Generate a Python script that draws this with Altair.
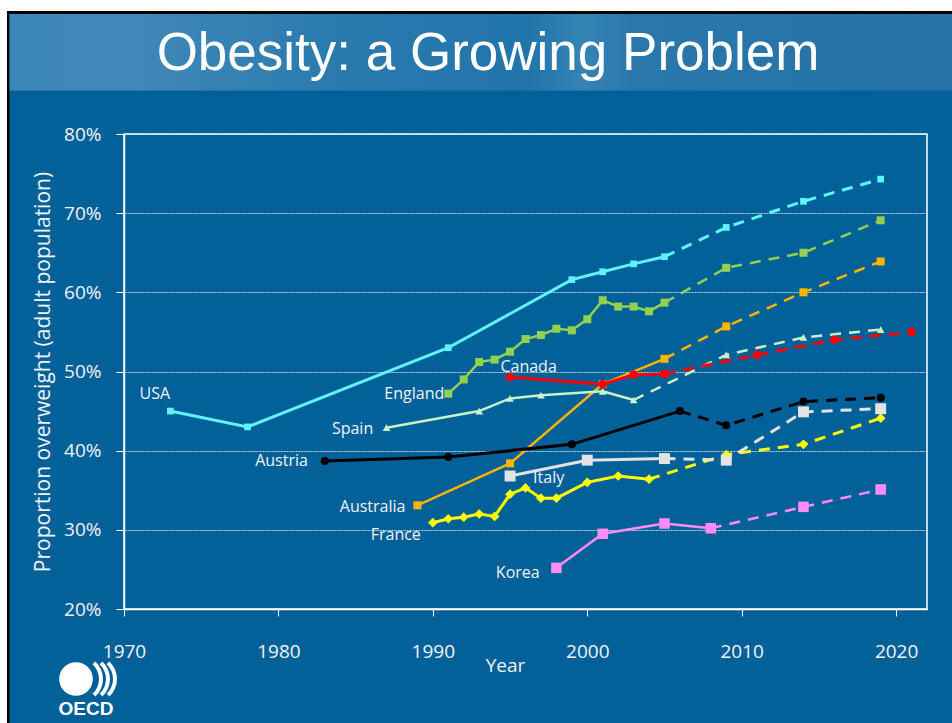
import altair as alt
import pandas as pd

# ---- Observed prevalence of overweight (% of adults) ----
usa_years = [1973, 1978, 1991, 1999, 2001, 2003, 2005]
usa_vals = [45.0, 43.0, 53.0, 61.6, 62.6, 63.6, 64.5]
england_years = [1991, 1992, 1993, 1994, 1995, 1996, 1997, 1998, 1999, 2000, 2001, 2002, 2003, 2004, 2005]
england_vals = [47.2, 49.0, 51.2, 51.5, 52.5, 54.1, 54.6, 55.4, 55.2, 56.6, 59.0, 58.2, 58.2, 57.6, 58.7]
canada_years = [1995, 2001, 2003, 2005]
canada_vals = [49.3, 48.4, 49.6, 49.7]
australia_years = [1989, 1995, 2001, 2005]
australia_vals = [33.1, 38.4, 48.4, 51.6]
spain_years = [1987, 1993, 1995, 1997, 2001, 2003]
spain_vals = [42.9, 45.0, 46.6, 47.0, 47.5, 46.4]
austria_years = [1983, 1991, 1999, 2006]
austria_vals = [38.7, 39.2, 40.8, 45.0]
italy_years = [1995, 2000, 2005]
italy_vals = [36.8, 38.8, 39.0]
france_years = [1990, 1991, 1992, 1993, 1994, 1995, 1996, 1997, 1998, 2000, 2002, 2004]
france_vals = [30.9, 31.4, 31.6, 32.0, 31.7, 34.5, 35.3, 34.0, 34.0, 36.0, 36.8, 36.4]
korea_years = [1998, 2001, 2005, 2008]
korea_vals = [25.2, 29.5, 30.8, 30.2]

# ---- Projections (dashed) ----
usa_proj_years = [2009, 2014, 2019]
usa_proj_vals = [68.2, 71.5, 74.3]
england_proj_years = [2009, 2014, 2019]
england_proj_vals = [63.1, 65.0, 69.1]
canada_proj_years = [2011, 2016, 2021]
canada_proj_vals = [52.1, 54.0, 55.0]
australia_proj_years = [2009, 2014, 2019]
australia_proj_vals = [55.7, 60.0, 63.9]
spain_proj_years = [2009, 2014, 2019]
spain_proj_vals = [52.1, 54.3, 55.3]
austria_proj_years = [2009, 2014, 2019]
austria_proj_vals = [43.2, 46.2, 46.7]
italy_proj_years = [2009, 2014, 2019]
italy_proj_vals = [38.8, 44.9, 45.3]
france_proj_years = [2009, 2014, 2019]
france_proj_vals = [39.5, 40.8, 44.1]
korea_proj_years = [2014, 2019]
korea_proj_vals = [32.9, 35.1]

# ---- Country name labels, placed in data units (year, %) ----
label_names = ["USA", "England", "Canada", "Spain", "Austria", "Italy", "Australia", "France", "Korea"]
label_years = [1972.0, 1988.8, 1996.2, 1984.8, 1980.2, 1997.5, 1986.1, 1987.6, 1995.5]
label_vals = [47.1, 47.1, 50.6, 42.7, 38.7, 36.6, 32.9, 29.3, 24.6]

x_ticks = [1970, 1980, 1990, 2000, 2010, 2020]
y_ticks = [20, 30, 40, 50, 60, 70, 80]

series = {
    "USA": (usa_years, usa_vals, usa_proj_years, usa_proj_vals),
    "England": (england_years, england_vals, england_proj_years, england_proj_vals),
    "Canada": (canada_years, canada_vals, canada_proj_years, canada_proj_vals),
    "Australia": (australia_years, australia_vals, australia_proj_years, australia_proj_vals),
    "Spain": (spain_years, spain_vals, spain_proj_years, spain_proj_vals),
    "Austria": (austria_years, austria_vals, austria_proj_years, austria_proj_vals),
    "Italy": (italy_years, italy_vals, italy_proj_years, italy_proj_vals),
    "France": (france_years, france_vals, france_proj_years, france_proj_vals),
    "Korea": (korea_years, korea_vals, korea_proj_years, korea_proj_vals),
}

# line colour, marker shape, marker area, stroke width
styles = {
    "USA": ("#5FF3F7", "square", 45, 3),
    "England": ("#92D050", "square", 64, 2.5),
    "Canada": ("#FF0000", "circle", 75, 3),
    "Australia": ("#FFB400", "square", 64, 2.5),
    "Spain": ("#C8F2C8", "triangle-up", 60, 2.5),
    "Austria": ("#000000", "circle", 65, 3),
    "Italy": ("#E3E3E3", "square", 120, 3),
    "France": ("#FFFF00", "diamond", 95, 3),
    "Korea": ("#FF8CF4", "square", 110, 2.5),
}
draw_order = ["Australia", "Korea", "France", "Italy", "Austria", "Spain", "Canada", "England", "USA"]

BG = "#03619A"
TXT = "#F2F2F2"
FONT = "Open Sans"

# plot area geometry (pixels)
LEFT, TOP, W, H = 124, 134, 803, 475

X = alt.X(
    "year:Q",
    scale=alt.Scale(domain=[1970, 2022], nice=False, zero=False),
    axis=alt.Axis(
        values=x_ticks, format="d", grid=False, labelFlush=False,
        labelFont=FONT, labelFontSize=19, labelColor=TXT, labelPadding=26,
        tickColor="white", tickSize=7, tickWidth=1,
        domainColor="white", domainWidth=1.5,
        title="Year", titleFont=FONT, titleFontSize=19, titleFontWeight="normal",
        titleColor=TXT, titleX=381, titleY=62, titleBaseline="alphabetic", titleAlign="center",
    ),
)
Y = alt.Y(
    "value:Q",
    scale=alt.Scale(domain=[20, 80], nice=False, zero=False),
    axis=alt.Axis(
        values=y_ticks, labelExpr="datum.value + '%'", labelFlush=False,
        labelFont=FONT, labelFontSize=19, labelColor=TXT, labelPadding=15,
        tickColor="white", tickSize=8, tickWidth=1,
        domainColor="white", domainWidth=1.5,
        grid=True, gridColor="#DCE6F0", gridDash=[2, 1], gridWidth=1, gridOpacity=0.85,
        title="Proportion overweight (adult population)", titleFont=FONT, titleFontSize=21,
        titleFontWeight="normal", titleColor=TXT, titleAngle=270, titleX=-81, titleY=H / 2,
        titleBaseline="middle", titleAlign="center",
    ),
)

one = pd.DataFrame({"k": [0]})


def px_rect(x0, y0, x1, y1, fill):
    # decoration rectangle given in page pixels
    return alt.Chart(one).mark_rect(fill=fill, strokeWidth=0).encode(
        x=alt.value(x0 - LEFT), x2=alt.value(x1 - LEFT),
        y=alt.value(y0 - TOP), y2=alt.value(y1 - TOP),
    )


band_fill = alt.Gradient(
    gradient="linear", x1=0, x2=1, y1=0, y2=0,
    stops=[
        alt.GradientStop(color="#3C88B8", offset=0.0),
        alt.GradientStop(color="#4189B9", offset=0.12),
        alt.GradientStop(color="#2A7AAE", offset=0.35),
        alt.GradientStop(color="#2275AA", offset=0.55),
        alt.GradientStop(color="#3584B6", offset=0.61),
        alt.GradientStop(color="#2A77AC", offset=0.66),
        alt.GradientStop(color="#2672A7", offset=1.0),
    ],
)

decor = [
    px_rect(0, 0, 952, 11, "white"),
    px_rect(0, 0, 7, 723, "white"),
    px_rect(7, 11, 952, 14, "black"),
    px_rect(7, 11, 9.5, 723, "black"),
    px_rect(9.5, 14, 952, 90.5, band_fill),
]

title = alt.Chart(one).mark_text(
    text="Obesity: a Growing Problem", font="Liberation Sans", fontSize=53,
    color="white", align="center", baseline="alphabetic",
).encode(x=alt.value(488 - LEFT), y=alt.value(70 - TOP))

# OECD logo: globe, three arcs, wordmark
logo = [
    alt.Chart(one).mark_point(shape="circle", filled=True, size=1130, color="white", opacity=1).encode(
        x=alt.value(76 - LEFT), y=alt.value(679 - TOP)),
    alt.Chart(one).mark_text(text="OECD", font="Liberation Sans", fontWeight="bold", fontSize=19,
                             color="white", align="center", baseline="alphabetic").encode(
        x=alt.value(86 - LEFT), y=alt.value(715 - TOP)),
]
for apex in [103, 110, 117]:
    logo.append(
        alt.Chart(one).mark_arc(radius=24, radius2=20, theta=0.75, theta2=2.39, color="white").encode(
            x=alt.value(apex - 24 - LEFT), y=alt.value(679 - TOP)))

data_layers = []
for name in draw_order:
    yrs, vals, pyrs, pvals = series[name]
    color, shape, msize, sw = styles[name]
    obs = pd.DataFrame({"year": yrs, "value": vals})
    proj = pd.DataFrame({"year": [yrs[-1]] + pyrs, "value": [vals[-1]] + pvals})
    pts = pd.DataFrame({"year": yrs + pyrs, "value": vals + pvals})
    data_layers.append(alt.Chart(obs).mark_line(color=color, strokeWidth=sw).encode(x=X, y=Y))
    data_layers.append(
        alt.Chart(proj).mark_line(color=color, strokeWidth=sw, strokeDash=[11, 8]).encode(x=X, y=Y))
    data_layers.append(
        alt.Chart(pts).mark_point(shape=shape, size=msize, filled=True, color=color, opacity=1).encode(x=X, y=Y))

labels_df = pd.DataFrame({"name": label_names, "year": label_years, "value": label_vals})
labels = alt.Chart(labels_df).mark_text(
    font=FONT, fontSize=16, color=TXT, align="center", baseline="middle",
).encode(x=X, y=Y, text="name:N")

chart = alt.layer(*decor, title, *logo, *data_layers, labels).properties(
    width=W, height=H,
    padding={"left": LEFT, "top": TOP, "right": 952 - LEFT - W, "bottom": 723 - TOP - H},
    autosize=alt.AutoSizeParams(type="none"),
).configure(background=BG).configure_view(stroke="white", strokeWidth=1.5)

chart.save("out.html", embed_options={"renderer": "svg", "actions": False})
